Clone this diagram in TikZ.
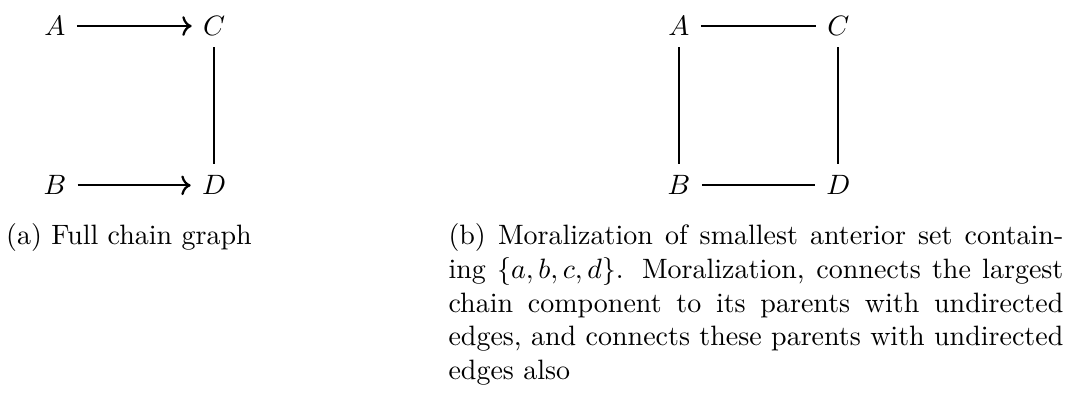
\documentclass[tikz,border=0pt]{standalone}
\usetikzlibrary{arrows.meta}
\begin{document}
\begin{tikzpicture}[x=1pt,y=1pt,
  vtx/.style={inner sep=3.9pt},
  edge/.style={thick},
  arr/.style={thick,->},
  captext/.style={anchor=base west,inner sep=0pt}]
\useasboundingbox (0,0) rectangle (383.6,-141.1);
% (a) full chain graph
\node[vtx] (A1) at (19.6,-9.3) {$A$};
\node[vtx] (C1) at (76.5,-9.3) {$C$};
\node[vtx] (B1) at (19.6,-66.2) {$B$};
\node[vtx] (D1) at (76.5,-66.2) {$D$};
\draw[arr] (A1) -- (C1);
\draw[arr] (B1) -- (D1);
\draw[edge] (C1) -- (D1);
% (b) moralization
\node[vtx] (A2) at (242.5,-9.3) {$A$};
\node[vtx] (C2) at (299.4,-9.3) {$C$};
\node[vtx] (B2) at (242.5,-66.2) {$B$};
\node[vtx] (D2) at (299.4,-66.2) {$D$};
\draw[edge] (A2) -- (C2);
\draw[edge] (A2) -- (B2);
\draw[edge] (C2) -- (D2);
\draw[edge] (B2) -- (D2);
% captions
\node[captext] (capa) at (2,-87.5) {(a) Full chain graph};
\node[captext] (capb) at (160,-87.5) {\parbox[t]{219.6pt}{\emergencystretch=2em
(b) Moralization of smallest anterior set contain-\linebreak
ing $\{a,b,c,d\}$. Moralization, connects the largest\linebreak
chain component to its parents with undirected\linebreak
edges, and connects these parents with undirected\linebreak
edges also}};
\end{tikzpicture}
\end{document}
